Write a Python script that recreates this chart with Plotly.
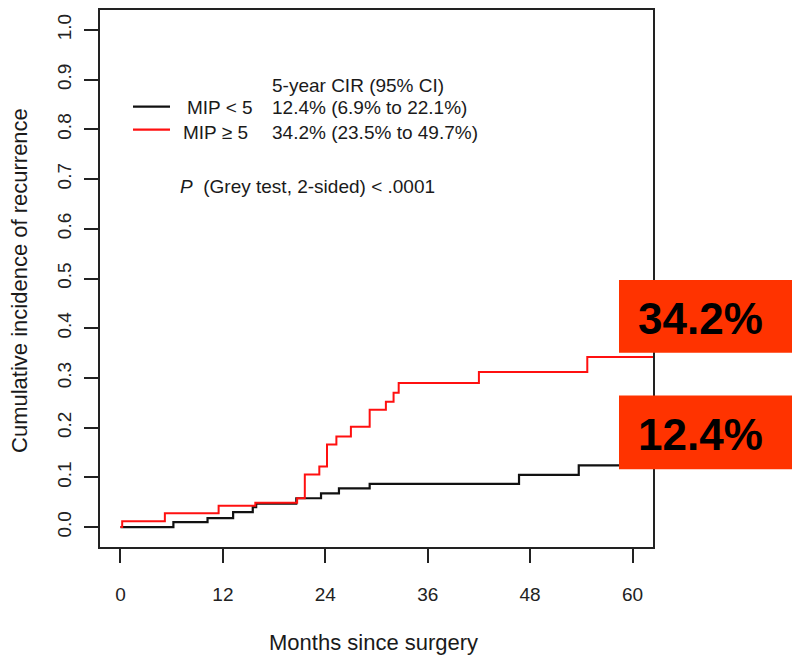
import plotly.graph_objects as go

# ---------------- data ----------------
months_lo = [0, 6.2, 10.2, 13.2, 15.5, 15.9, 20.6, 23.5, 25.6, 29.2, 46.7, 53.7, 62.4]
cir_lo = [0.0, 0.010, 0.018, 0.030, 0.040, 0.047, 0.058, 0.068, 0.078, 0.087, 0.105, 0.124, 0.124]

months_hi = [0, 0.2, 5.2, 11.5, 15.8, 20.7, 21.6, 23.3, 24.2, 25.3, 27.0, 29.2, 31.1, 32.0,
             32.6, 42.0, 54.7, 62.4]
cir_hi = [0.0, 0.012, 0.028, 0.043, 0.049, 0.058, 0.106, 0.122, 0.166, 0.182, 0.202, 0.236,
          0.252, 0.270, 0.290, 0.312, 0.342, 0.342]

x_ticks = [0, 12, 24, 36, 48, 60]
y_ticks = [0.0, 0.1, 0.2, 0.3, 0.4, 0.5, 0.6, 0.7, 0.8, 0.9, 1.0]

legend_header = "5-year CIR (95% CI)"
group_names = ["MIP < 5", "MIP ≥ 5"]
group_cir = ["12.4% (6.9% to 22.1%)", "34.2% (23.5% to 49.7%)"]
p_text = "<i>P</i>  (Grey test, 2-sided) &lt; .0001"
callouts = ["34.2%", "12.4%"]

# ---------------- layout geometry ----------------
W, H = 792, 658
ML, MR, MT, MB = 100, 139, 8, 111
PW, PH = W - ML - MR, H - MT - MB


def px_x(p):
    return (p - ML) / PW


def px_y(p):
    return (H - MB - p) / PH


FONT = "Liberation Sans, Arial, sans-serif"
INK = "#1a1a1a"

fig = go.Figure()
fig.add_trace(go.Scatter(x=months_lo, y=cir_lo, mode="lines", line_shape="hv",
                         line=dict(color="#111111", width=2.2), name=group_names[0]))
fig.add_trace(go.Scatter(x=months_hi, y=cir_hi, mode="lines", line_shape="hv",
                         line=dict(color="#ff1010", width=2.0), name=group_names[1]))

axis_common = dict(showgrid=False, zeroline=False, showline=True, mirror=True,
                   linecolor="#222222", linewidth=1.5, ticks="outside", ticklen=14,
                   tickwidth=1.5, tickcolor="#222222",
                   tickfont=dict(family=FONT, size=19, color="#222222"))

fig.update_xaxes(range=[-2.4, 62.4], tickvals=x_ticks, ticklabelstandoff=15, **axis_common)
fig.update_yaxes(range=[-0.04, 1.04], tickvals=y_ticks, tickformat=".1f", tickangle=-90,
                 ticklabelstandoff=6, **axis_common)

shapes = []
annotations = []

# legend line samples
for py, col in [(105, "#111111"), (128, "#ff1010")]:
    shapes.append(dict(type="line", xref="paper", yref="paper",
                       x0=px_x(133), x1=px_x(170), y0=px_y(py), y1=px_y(py),
                       line=dict(color=col, width=2.2)))

txt = dict(family=FONT, size=19, color=INK)
annotations.append(dict(text=legend_header, xref="paper", yref="paper", x=px_x(271), y=px_y(84),
                        xanchor="left", yanchor="middle", showarrow=False, font=txt,
                        borderpad=0))
for name, cir, py, lx in zip(group_names, group_cir, [106, 131], [186, 182]):
    annotations.append(dict(text=name, xref="paper", yref="paper", x=px_x(lx), y=px_y(py),
                            xanchor="left", yanchor="middle", showarrow=False, font=txt,
                            borderpad=0))
    annotations.append(dict(text=cir, xref="paper", yref="paper", x=px_x(271), y=px_y(py),
                            xanchor="left", yanchor="middle", showarrow=False, font=txt,
                            borderpad=0))
annotations.append(dict(text=p_text, xref="paper", yref="paper", x=px_x(178), y=px_y(185),
                        xanchor="left", yanchor="middle", showarrow=False, font=txt))

# axis titles
annotations.append(dict(text="Months since surgery", xref="paper", yref="paper",
                        x=px_x(373), y=px_y(643), xanchor="center", yanchor="middle",
                        showarrow=False, font=dict(family=FONT, size=22, color=INK)))
annotations.append(dict(text="Cumulative incidence of recurrence", xref="paper", yref="paper",
                        x=px_x(20), y=px_y(280), xanchor="center", yanchor="middle",
                        textangle=-90, showarrow=False,
                        font=dict(family=FONT, size=22, color=INK)))

# red call-out boxes
for label, (top, bot) in zip(callouts, [(279, 352), (395, 469)]):
    shapes.append(dict(type="rect", xref="paper", yref="paper", x0=px_x(619), x1=px_x(792),
                       y0=px_y(bot), y1=px_y(top), fillcolor="#ff3300", line=dict(width=0),
                       layer="above"))
    annotations.append(dict(text=f"<b>{label}</b>", xref="paper", yref="paper",
                            x=px_x(700), y=px_y((top + bot) / 2 + 2), xanchor="center",
                            yanchor="middle", showarrow=False,
                            font=dict(family=FONT, size=44, color="#000000")))

fig.update_layout(width=W, height=H, margin=dict(l=ML, r=MR, t=MT, b=MB),
                  paper_bgcolor="white", plot_bgcolor="white", showlegend=False,
                  shapes=shapes, annotations=annotations)

fig.write_html("out.html")
